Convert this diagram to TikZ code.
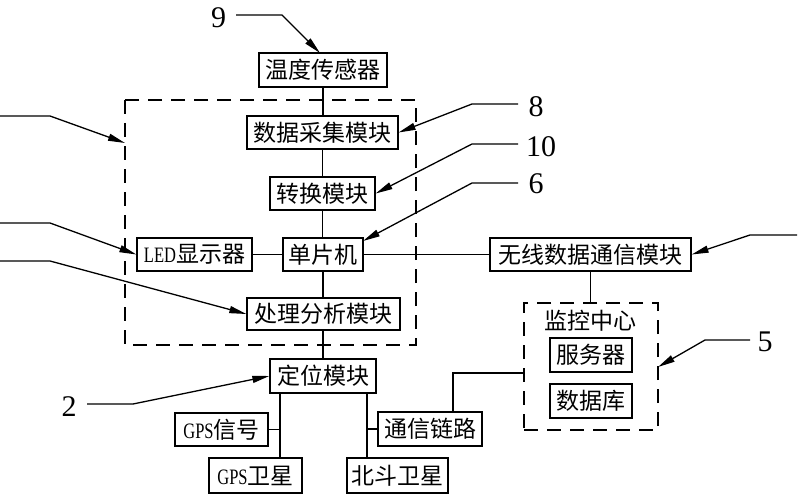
\documentclass[tikz,border=0pt]{standalone}
\usepackage{fontspec}
\setmainfont{Liberation Serif}
\newfontfamily\cjk{Noto Sans CJK SC}
\newfontfamily\latf{Liberation Serif}
\usetikzlibrary{arrows.meta}
\newcommand\latsmall[1]{\scalebox{0.75}[1]{\latf\fontsize{22}{22}\selectfont #1}}
\begin{document}
\begin{tikzpicture}[x=1pt,y=-1pt,
  box/.style={draw, line width=1.3pt, inner sep=0pt, font=\cjk\fontsize{23}{23}\selectfont},
  ln/.style={line width=1.3pt},
  arr/.style={line width=1.3pt, -{Triangle[length=17pt,width=7pt]}},
  num/.style={font=\latf\fontsize{30}{30}\selectfont, inner sep=0pt},
  dbox/.style={draw, line width=1.3pt, dash pattern=on 14pt off 9pt},
  plain/.style={inner sep=0pt, font=\cjk\fontsize{23}{23}\selectfont}]
\useasboundingbox (0,0) rectangle (800,500);
% dashed frames
\draw[dbox] (125,100) rectangle (416,345);
\node[dbox, minimum width=134pt, minimum height=127pt] (mon) at (591,366.5) {};
% boxes
\node[box, minimum width=128pt, minimum height=34pt] (temp) at (323,70) {温度传感器};
\node[box, minimum width=151pt, minimum height=33pt] (daq) at (322.5,132.5) {数据采集模块};
\node[box, minimum width=105pt, minimum height=33pt] (conv) at (322.5,193.5) {转换模块};
\node[box, minimum width=80pt, minimum height=33pt] (mcu) at (323,254.5) {单片机};
\node[box, minimum width=115pt, minimum height=33pt] (led) at (194.5,254.5) {\latsmall{LED}显示器};
\node[box, minimum width=153pt, minimum height=32pt] (proc) at (323.5,314) {处理分析模块};
\node[box, minimum width=106pt, minimum height=34pt] (loc) at (323,376) {定位模块};
\node[box, minimum width=93pt, minimum height=33pt] (gpss) at (221.5,429.5) {\latsmall{GPS}信号};
\node[box, minimum width=93pt, minimum height=35pt] (gpsat) at (255.5,475.5) {\latsmall{GPS}卫星};
\node[box, minimum width=101pt, minimum height=35pt] (bd) at (397.5,475.5) {北斗卫星};
\node[box, minimum width=104pt, minimum height=34pt] (link) at (430,429) {通信链路};
\node[box, minimum width=201pt, minimum height=33pt] (wl) at (590.5,254.5) {无线数据通信模块};
\node[plain] (montxt) at (590,321) {监控中心};
\node[box, minimum width=82pt, minimum height=34pt] (srv) at (591,355) {服务器};
\node[box, minimum width=82pt, minimum height=34pt] (db) at (591,401) {数据库};
% connections
\draw[ln] (temp.south) -- (temp.south |- daq.north);
\draw[ln] (daq.south) -- (daq.south |- conv.north);
\draw[ln] (conv.south) -- (conv.south |- mcu.north);
\draw[ln] (mcu.south) -- (mcu.south |- proc.north);
\draw[ln] (proc.south) -- (proc.south -| loc.north) -- (loc.north);
\draw[ln] (led.east) -- (mcu.west);
\draw[ln] (mcu.east) -- (wl.west);
\draw[ln] (wl.south) -- (wl.south |- mon.north);
\coordinate (la) at (280,393);
\coordinate (ra) at (367,393);
\draw[ln] (la) -- (la |- gpsat.north);
\draw[ln] (gpss.east) -- (gpss.east -| la);
\draw[ln] (ra) -- (ra |- bd.north);
\draw[ln] (link.west) -- (link.west -| ra);
\coordinate (lk) at (453,373);
\draw[ln] (lk |- link.north) -- (lk) -- (lk -| mon.west);
% numbers and leaders
\node[num] (n9) at (218.5,17.5) {9};
\node[num] (n8) at (536,107) {8};
\node[num] (n10) at (541,147) {10};
\node[num] (n6) at (536,183.5) {6};
\node[num] (n5) at (765,342) {5};
\node[num] (n2) at (69,407) {2};
\coordinate (e9) at (282,15);
\coordinate (e8) at (472,104);
\coordinate (e10) at (472,144);
\coordinate (e6) at (472,183);
\coordinate (e5) at (705,340);
\coordinate (e2) at (133,404);
\draw[arr] (236,15) -- (e9) -- (320,53);
\draw[arr] (518,104) -- (e8) -- (daq.east);
\draw[arr] (518,144) -- (e10) -- (conv.east);
\draw[arr] (518,183) -- (e6) -- (363,241);
\draw[arr] (750,340) -- (e5) -- (658,367);
\draw[arr] (87,404) -- (e2) -- (loc.west);
% unlabeled leaders
\coordinate (f1) at (0,116);
\coordinate (g1) at (50,116);
\coordinate (f2) at (0,223);
\coordinate (g2) at (50,223);
\coordinate (f3) at (0,261);
\coordinate (g3) at (50,261);
\coordinate (f4) at (797,235);
\coordinate (g4) at (750,235);
\draw[arr] (f1) -- (g1) -- (125,143);
\draw[arr] (f2) -- (g2) -- (led.west);
\draw[arr] (f3) -- (g3) -- (proc.west);
\draw[arr] (f4) -- (g4) -- (wl.east);
\end{tikzpicture}
\end{document}
